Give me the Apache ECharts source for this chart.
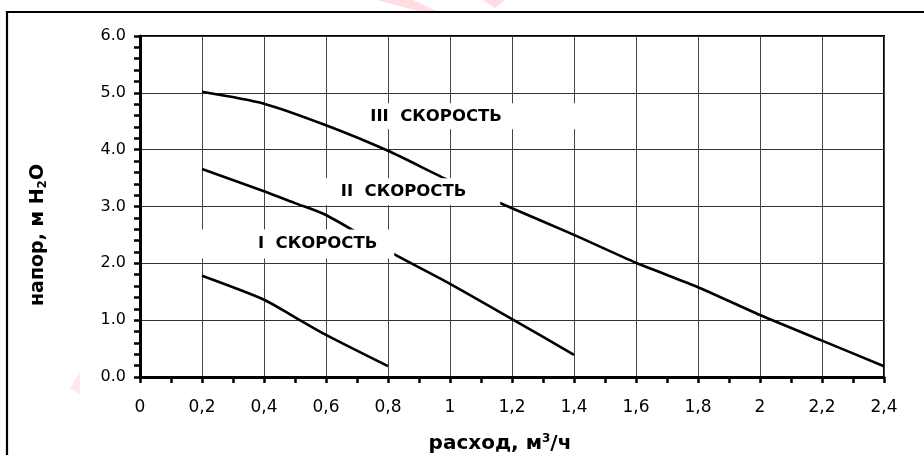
<!DOCTYPE html>
<html>
<head>
<meta charset="utf-8">
<script src="https://cdn.jsdelivr.net/npm/echarts@6/dist/echarts.min.js"></script>
<style>
html,body{margin:0;padding:0;background:#fff;}
#chart{width:924px;height:455px;}
</style>
</head>
<body>
<div id="chart"></div>
<script>
// ---- data ----
const speedIII_x = [0.2, 0.4, 0.6, 0.8, 1.0, 1.2, 1.4, 1.6, 1.8, 2.0, 2.2, 2.4];
const speedIII_y = [5.02, 4.81, 4.43, 3.98, 3.45, 2.97, 2.50, 2.01, 1.58, 1.09, 0.64, 0.19];
const speedII_x = [0.2, 0.4, 0.5, 0.6, 0.8, 1.0, 1.2, 1.4];
const speedII_y = [3.66, 3.27, 3.06, 2.85, 2.22, 1.64, 1.02, 0.39];
const speedI_x = [0.2, 0.4, 0.5, 0.6, 0.8];
const speedI_y = [1.78, 1.36, 1.05, 0.74, 0.19];
const curveNames = ['III  СКОРОСТЬ', 'II  СКОРОСТЬ', 'I  СКОРОСТЬ'];
const labelX = [0.955, 0.85, 0.573];
const labelY = [4.56, 3.26, 2.34];
const xAxisTitle = ['расход, м', '3', '/ч'];
const yAxisTitle = ['напор, м H', '2', 'O'];

// ---- styles (kept separate from data) ----
const labelPads = [[6, 76, 3, 28], [5, 34, 5, 20], [6, 17, 6, 62]];
const FONT = 'DejaVu Sans';

function zip(xs, ys) { return xs.map((x, i) => [x, ys[i]]); }
function xFmt(v) { return String(+(+v).toFixed(1)).replace('.', ','); }

const lineStyle = { color: '#000', width: 2.6 };
function curve(name, xs, ys) {
  return {
    type: 'line', name: name, data: zip(xs, ys), smooth: 0.25,
    symbol: 'none', lineStyle: lineStyle, z: 3, silent: true
  };
}

const labelData = curveNames.map((n, i) => {
  const p = labelPads[i];
  return {
    value: [labelX[i], labelY[i]],
    label: {
      formatter: n,
      padding: p,
      offset: [(p[1] - p[3]) / 2, (p[2] - p[0]) / 2]
    }
  };
});

const chart = echarts.init(document.getElementById('chart'), null, { renderer: 'canvas' });
chart.setOption({
  animation: false,
  backgroundColor: '#fff',
  grid: { left: 140, right: 40, top: 36, bottom: 78, show: true, borderColor: '#000', borderWidth: 2, backgroundColor: 'transparent' },
  xAxis: {
    type: 'value', min: 0, max: 2.4, interval: 0.2,
    axisLine: { show: true, onZero: false, lineStyle: { color: '#000', width: 3 } },
    axisTick: { show: true, length: 6, lineStyle: { color: '#000', width: 2.5 } },
    minorTick: { show: true, splitNumber: 2, length: 6, lineStyle: { color: '#000', width: 2.5 } },
    axisLabel: { margin: 22, fontSize: 17, color: '#000', fontFamily: FONT, formatter: xFmt },
    splitLine: { show: true, lineStyle: { color: '#444', width: 1 } },
    minorSplitLine: { show: false }
  },
  yAxis: {
    type: 'value', min: 0, max: 6, interval: 1,
    axisLine: { show: true, onZero: false, lineStyle: { color: '#000', width: 3 } },
    axisTick: { show: true, length: 6, lineStyle: { color: '#000', width: 2.5 } },
    minorTick: { show: true, splitNumber: 5, length: 6, lineStyle: { color: '#000', width: 2.5 } },
    axisLabel: { margin: 14, fontSize: 16, color: '#000', fontFamily: FONT, formatter: v => (+v).toFixed(1) },
    splitLine: { show: true, lineStyle: { color: '#333', width: 1 } }
  },
  series: [
    curve('III', speedIII_x, speedIII_y),
    curve('II', speedII_x, speedII_y),
    curve('I', speedI_x, speedI_y),
    {
      type: 'scatter', data: labelData, symbolSize: 1, z: 10, silent: true,
      itemStyle: { color: 'rgba(0,0,0,0)', opacity: 1 },
      label: {
        show: true, position: 'inside', color: '#000', fontFamily: FONT, opacity: 1,
        fontWeight: 'bold', fontSize: 16.5, backgroundColor: '#fff'
      },
      emphasis: { disabled: true }
    }
  ],
  graphic: [
    { type: 'polygon', silent: true, z: -1, shape: { points: [[377, 0], [413, 0], [440, 13], [425, 13]] }, style: { fill: 'rgba(255,60,90,0.18)' } },
    { type: 'polygon', silent: true, z: -1, shape: { points: [[483, 0], [505, 0], [495, 8]] }, style: { fill: 'rgba(255,60,90,0.18)' } },
    { type: 'polygon', silent: true, z: -1, shape: { points: [[80, 372], [80, 394], [70, 388]] }, style: { fill: 'rgba(255,60,90,0.12)' } },
    { type: 'polyline', silent: true, z: 100, shape: { points: [[7, 455], [7, 12], [924, 12]] }, style: { stroke: '#000', lineWidth: 2.2, fill: null } },
    {
      type: 'text', silent: true, z: 100, x: 500, y: 444,
      style: {
        text: '{a|' + xAxisTitle[0] + '}{s|' + xAxisTitle[1] + '}{a|' + xAxisTitle[2] + '}',
        align: 'center', verticalAlign: 'middle',
        rich: {
          a: { fontFamily: FONT, fontWeight: 'bold', fontSize: 20, fill: '#000', lineHeight: 22 },
          s: { fontFamily: FONT, fontWeight: 'bold', fontSize: 12, fill: '#000', lineHeight: 13, verticalAlign: 'top' }
        }
      }
    },
    {
      type: 'text', silent: true, z: 100, x: 38, y: 235, rotation: Math.PI / 2,
      style: {
        text: '{a|' + yAxisTitle[0] + '}{s|' + yAxisTitle[1] + '}{a|' + yAxisTitle[2] + '}',
        align: 'center', verticalAlign: 'middle',
        rich: {
          a: { fontFamily: FONT, fontWeight: 'bold', fontSize: 19, fill: '#000', lineHeight: 22 },
          s: { fontFamily: FONT, fontWeight: 'bold', fontSize: 12, fill: '#000', lineHeight: 13, verticalAlign: 'bottom' }
        }
      }
    }
  ]
});
</script>
</body>
</html>
